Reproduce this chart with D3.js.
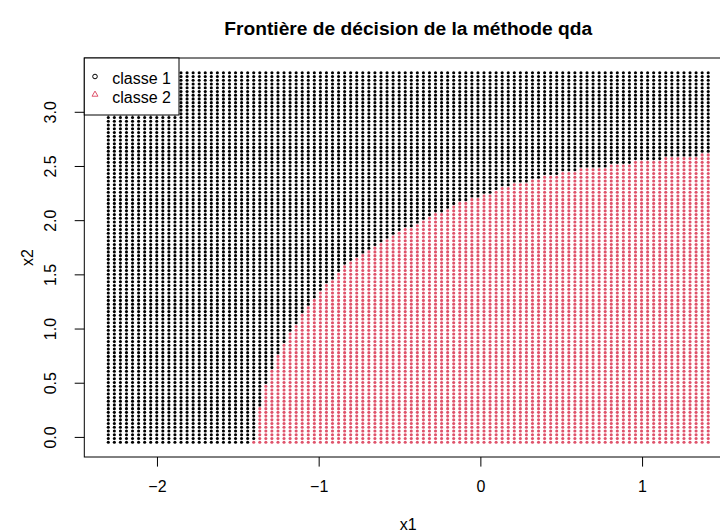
<!DOCTYPE html>
<html>
<head>
<meta charset="utf-8">
<script src="https://cdn.jsdelivr.net/npm/d3@7"></script>
<style>
  body { margin: 0; background: #fff; }
  svg { display: block; font-family: "Liberation Sans", Arial, Helvetica, sans-serif; }
</style>
</head>
<body>
<script>
// grid of predictions over (x1, x2)
var titleText = "Frontière de décision de la méthode qda";
var x1Range = [-2.301, 1.409];
var x2Range = [-0.049, 3.360];
var gridSize = 100;

// number of rows (from the bottom) predicted as classe 2, one entry per x1 column
var class2Rows = [
   0,  0,  0,  0,  0,  0,  0,  0,  0,  0,
   0,  0,  0,  0,  0,  0,  0,  0,  0,  0,
   0,  0,  0,  0,  1, 10, 16, 20, 24, 27,
  30, 32, 35, 37, 39, 41, 43, 44, 46, 48,
  49, 50, 51, 52, 53, 54, 55, 56, 57, 58,
  58, 59, 60, 61, 62, 62, 63, 64, 65, 65,
  66, 66, 67, 67, 68, 69, 69, 70, 70, 70,
  71, 71, 72, 72, 72, 73, 73, 73, 74, 74,
  74, 74, 74, 75, 75, 75, 75, 76, 76, 76,
  76, 76, 77, 77, 77, 77, 77, 77, 78, 78
];

var xTicks = [-2, -1, 0, 1];
var yTicks = [0, 0.5, 1, 1.5, 2, 2.5, 3];
var classNames = ["classe 1", "classe 2"];
var classColors = ["#000000", "#DF536B"];

function draw() {
    var width = 720,
        height = 531,
        // plot box (the right side runs past the window, as in the original)
        boxLeft = 84.3,
        boxRight = 732.2,
        boxTop = 58,
        boxBottom = 457;

    // R style: pad the data range by 4% on each side
    function padded(r) {
        var s = (r[1] - r[0]) * 0.04;
        return [r[0] - s, r[1] + s];
    }

    var x = d3.scaleLinear().domain(padded(x1Range)).range([boxLeft, boxRight]);
    var y = d3.scaleLinear().domain(padded(x2Range)).range([boxBottom, boxTop]);

    // the grid itself: gridSize evenly spaced values on each axis
    var x1Grid = d3.range(gridSize).map(function(i) { return x1Range[0] + i * (x1Range[1] - x1Range[0]) / (gridSize - 1); });
    var x2Grid = d3.range(gridSize).map(function(j) { return x2Range[0] + j * (x2Range[1] - x2Range[0]) / (gridSize - 1); });

    var points = [];
    x1Grid.forEach(function(v1, i) {
        x2Grid.forEach(function(v2, j) {
            points.push({ x1: v1, x2: v2, cls: j < class2Rows[i] ? 1 : 0 });
        });
    });

    var svg = d3.select("body").append("svg")
        .attr("width", width)
        .attr("height", height);

    svg.append("g")
        .selectAll("circle")
        .data(points)
        .enter().append("circle")
        .attr("cx", function(d) { return x(d.x1); })
        .attr("cy", function(d) { return y(d.x2); })
        .attr("r", 1.55)
        .attr("fill", function(d) { return classColors[d.cls]; });

    // axes
    var xAxis = svg.append("g")
        .attr("transform", "translate(0," + boxBottom + ")")
        .call(d3.axisBottom(x).tickValues(xTicks).tickSize(9.6).tickFormat(d3.format("d")));
    xAxis.select(".domain").remove();
    xAxis.selectAll("text")
        .attr("y", 35.3)
        .attr("dy", 0)
        .style("font-size", "16px")
        .attr("fill", "#000");

    var yAxis = svg.append("g")
        .attr("transform", "translate(" + boxLeft + ",0)")
        .call(d3.axisLeft(y).tickValues(yTicks).tickSize(9.6).tickFormat(d3.format(".1f")));
    yAxis.select(".domain").remove();
    yAxis.selectAll("text")
        .attr("transform", "rotate(-90)")
        .attr("x", 0)
        .attr("y", -28)
        .attr("dy", 0)
        .attr("text-anchor", "middle")
        .style("font-size", "16px")
        .attr("fill", "#000");
    svg.selectAll(".tick line").attr("stroke", "#000");

    // box
    svg.append("rect")
        .attr("x", boxLeft)
        .attr("y", boxTop)
        .attr("width", boxRight - boxLeft)
        .attr("height", boxBottom - boxTop)
        .attr("fill", "none")
        .attr("stroke", "#000");

    // legend, top left corner of the plot
    var legend = svg.append("g");
    legend.append("rect")
        .attr("x", boxLeft)
        .attr("y", boxTop)
        .attr("width", 94.7)
        .attr("height", 57)
        .attr("fill", "#fff")
        .attr("stroke", "#000");
    legend.append("circle")
        .attr("cx", 95)
        .attr("cy", 76.5)
        .attr("r", 2.3)
        .attr("fill", "none")
        .attr("stroke", classColors[0]);
    // R's pch 2 triangle around its point
    var tc = 2.2;
    legend.append("path")
        .attr("d", "M95," + (94.5 - 1.555 * tc) +
                   "L" + (95 + 1.347 * tc) + "," + (94.5 + 0.778 * tc) +
                   "L" + (95 - 1.347 * tc) + "," + (94.5 + 0.778 * tc) + "Z")
        .attr("fill", "none")
        .attr("stroke", classColors[1]);
    legend.selectAll(".lab")
        .data(classNames)
        .enter().append("text")
        .attr("class", "lab")
        .attr("x", 112.3)
        .attr("y", function(d, i) { return 83.5 + i * 19.3; })
        .style("font-size", "16px")
        .text(function(d) { return d; });

    // titles
    svg.append("text")
        .attr("x", (boxLeft + boxRight) / 2)
        .attr("y", 35)
        .attr("text-anchor", "middle")
        .style("font-size", "19.2px")
        .style("font-weight", "bold")
        .text(titleText);

    svg.append("text")
        .attr("x", (boxLeft + boxRight) / 2)
        .attr("y", 529.5)
        .attr("text-anchor", "middle")
        .style("font-size", "16px")
        .text("x1");

    svg.append("text")
        .attr("transform", "translate(33.3," + (boxTop + boxBottom) / 2 + ") rotate(-90)")
        .attr("text-anchor", "middle")
        .style("font-size", "16px")
        .text("x2");
}

draw();
</script>
</body>
</html>
